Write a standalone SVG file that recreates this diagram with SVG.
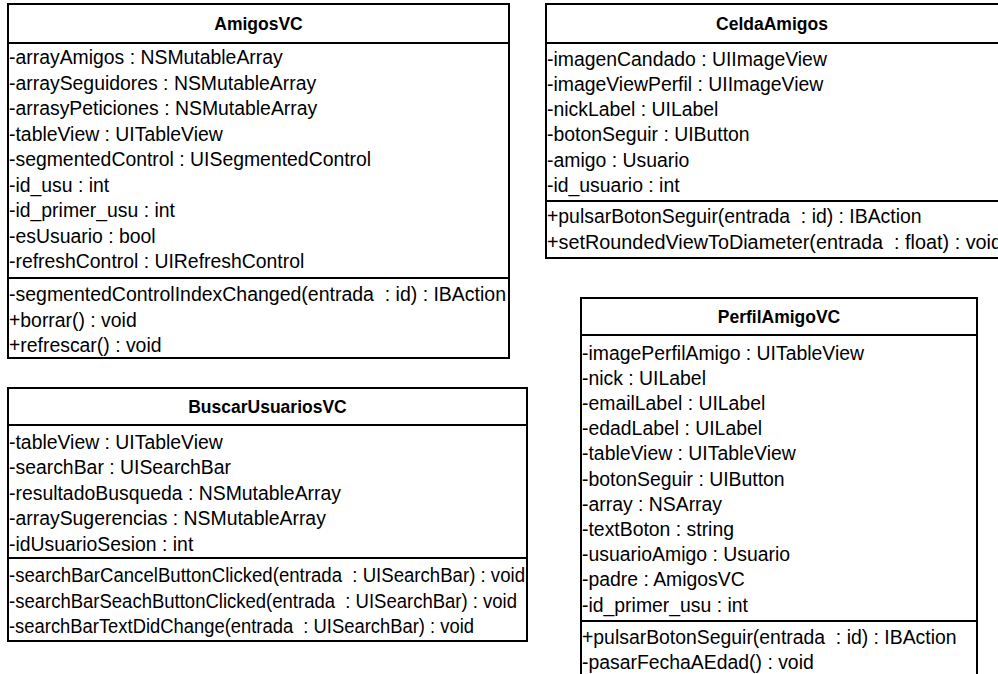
<svg xmlns="http://www.w3.org/2000/svg" width="998" height="674" viewBox="0 0 998 674" xml:space="preserve">
  <style>
    .box { fill: #ffffff; stroke: #000000; stroke-width: 2; }
    .sep { stroke: #000000; stroke-width: 2; }
    .title { font-family: "Liberation Sans", Arial, sans-serif; font-size: 17.5px; font-weight: bold; text-anchor: middle; fill: #000; }
    .row { font-family: "Liberation Sans", Arial, sans-serif; font-size: 19.4px; fill: #000; white-space: pre; }
  </style>
  <rect width="998" height="674" fill="#ffffff"/>

  <!-- AmigosVC -->
  <g id="amigosvc">
    <rect class="box" x="8" y="4" width="501" height="354"/>
    <line class="sep" x1="8" y1="43" x2="509" y2="43"/>
    <line class="sep" x1="8" y1="278" x2="509" y2="278"/>
    <text class="title" x="258.5" y="30">AmigosVC</text>
    <text class="row" x="9" y="64">-arrayAmigos : NSMutableArray</text>
    <text class="row" x="9" y="89.5">-arraySeguidores : NSMutableArray</text>
    <text class="row" x="9" y="115">-arrasyPeticiones : NSMutableArray</text>
    <text class="row" x="9" y="140.5">-tableView : UITableView</text>
    <text class="row" x="9" y="166">-segmentedControl : UISegmentedControl</text>
    <text class="row" x="9" y="191.5">-id_usu : int</text>
    <text class="row" x="9" y="217">-id_primer_usu : int</text>
    <text class="row" x="9" y="242.5">-esUsuario : bool</text>
    <text class="row" x="9" y="268">-refreshControl : UIRefreshControl</text>
    <text class="row" x="9" y="301" textLength="497" lengthAdjust="spacingAndGlyphs">-segmentedControlIndexChanged(entrada  : id) : IBAction</text>
    <text class="row" x="9" y="326.5">+borrar() : void</text>
    <text class="row" x="9" y="352">+refrescar() : void</text>
  </g>

  <!-- CeldaAmigos (runs past the right edge) -->
  <g id="celdaamigos">
    <rect class="box" x="546" y="4" width="470" height="254"/>
    <line class="sep" x1="546" y1="43" x2="1016" y2="43"/>
    <line class="sep" x1="546" y1="201" x2="1016" y2="201"/>
    <text class="title" x="772" y="30">CeldaAmigos</text>
    <text class="row" x="547" y="65.5">-imagenCandado : UIImageView</text>
    <text class="row" x="547" y="90.8">-imageViewPerfil : UIImageView</text>
    <text class="row" x="547" y="116.1">-nickLabel : UILabel</text>
    <text class="row" x="547" y="141.4">-botonSeguir : UIButton</text>
    <text class="row" x="547" y="166.7">-amigo : Usuario</text>
    <text class="row" x="547" y="192">-id_usuario : int</text>
    <text class="row" x="547" y="223">+pulsarBotonSeguir(entrada  : id) : IBAction</text>
    <text class="row" x="547" y="248.5" textLength="455" lengthAdjust="spacingAndGlyphs">+setRoundedViewToDiameter(entrada  : float) : void</text>
  </g>

  <!-- BuscarUsuariosVC -->
  <g id="buscarusuariosvc">
    <rect class="box" x="8" y="388" width="519" height="253"/>
    <line class="sep" x1="8" y1="425" x2="527" y2="425"/>
    <line class="sep" x1="8" y1="558" x2="527" y2="558"/>
    <text class="title" x="267.5" y="413">BuscarUsuariosVC</text>
    <text class="row" x="9" y="448.5">-tableView : UITableView</text>
    <text class="row" x="9" y="474">-searchBar : UISearchBar</text>
    <text class="row" x="9" y="499.5">-resultadoBusqueda : NSMutableArray</text>
    <text class="row" x="9" y="525">-arraySugerencias : NSMutableArray</text>
    <text class="row" x="9" y="550.5">-idUsuarioSesion : int</text>
    <text class="row" x="9" y="582" textLength="516" lengthAdjust="spacingAndGlyphs">-searchBarCancelButtonClicked(entrada  : UISearchBar) : void</text>
    <text class="row" x="9" y="607.5" textLength="508" lengthAdjust="spacingAndGlyphs">-searchBarSeachButtonClicked(entrada  : UISearchBar) : void</text>
    <text class="row" x="9" y="633" textLength="465" lengthAdjust="spacingAndGlyphs">-searchBarTextDidChange(entrada  : UISearchBar) : void</text>
  </g>

  <!-- PerfilAmigoVC (runs past the bottom edge) -->
  <g id="perfilamigovc">
    <rect class="box" x="581" y="298" width="396" height="390"/>
    <line class="sep" x1="581" y1="335" x2="977" y2="335"/>
    <line class="sep" x1="581" y1="621" x2="977" y2="621"/>
    <text class="title" x="779" y="323">PerfilAmigoVC</text>
    <text class="row" x="582" y="359.5">-imagePerfilAmigo : UITableView</text>
    <text class="row" x="582" y="384.7">-nick : UILabel</text>
    <text class="row" x="582" y="409.9">-emailLabel : UILabel</text>
    <text class="row" x="582" y="435.1">-edadLabel : UILabel</text>
    <text class="row" x="582" y="460.3">-tableView : UITableView</text>
    <text class="row" x="582" y="485.5">-botonSeguir : UIButton</text>
    <text class="row" x="582" y="510.7">-array : NSArray</text>
    <text class="row" x="582" y="535.9">-textBoton : string</text>
    <text class="row" x="582" y="561.1">-usuarioAmigo : Usuario</text>
    <text class="row" x="582" y="586.3">-padre : AmigosVC</text>
    <text class="row" x="582" y="611.5">-id_primer_usu : int</text>
    <text class="row" x="582" y="643.5">+pulsarBotonSeguir(entrada  : id) : IBAction</text>
    <text class="row" x="582" y="669">-pasarFechaAEdad() : void</text>
  </g>

  <!-- no associations are drawn between the classes -->
  <g id="connectors"/>
</svg>
